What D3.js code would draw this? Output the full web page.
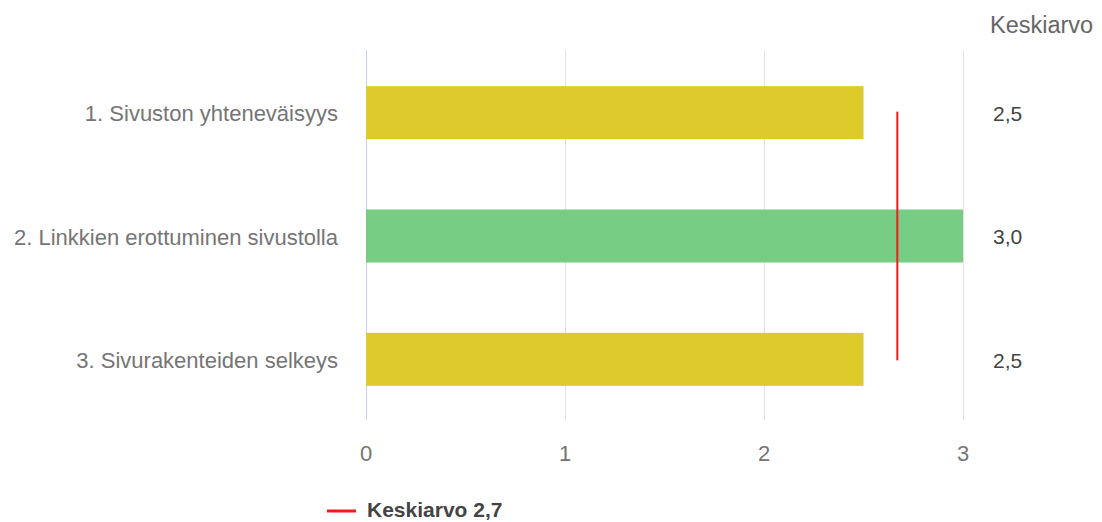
<!DOCTYPE html>
<html><head><meta charset="utf-8">
<script src="https://cdn.jsdelivr.net/npm/d3@7"></script>
<style>body{margin:0;background:#fff;}svg{display:block;font-family:"Liberation Sans",Arial,sans-serif;}</style>
</head><body>
<svg id="c" width="1102" height="522"></svg>
<script>
const categories = ["1. Sivuston yhteneväisyys", "2. Linkkien erottuminen sivustolla", "3. Sivurakenteiden selkeys"];
const values = [2.5, 3.0, 2.5];
const valueLabels = ["2,5", "3,0", "2,5"];
const barColors = ["#dccb2a", "#78cd84", "#dccb2a"];
const meanValue = 2.67;
const meanLabel = "Keskiarvo 2,7";
const xTicks = [0, 1, 2, 3];
const columnHeader = "Keskiarvo";

const svg = d3.select("#c");
const x = d3.scaleLinear().domain([0, 3]).range([366, 963]);
const y = d3.scaleBand().domain(categories).range([50, 420]).paddingInner(0.57).paddingOuter(0.285);

// gridlines
svg.append("g").selectAll("line").data(xTicks).join("line")
  .attr("x1", d => x(d)).attr("x2", d => x(d))
  .attr("y1", 50).attr("y2", 420)
  .attr("stroke", d => d === 0 ? "#c5d0ee" : "#e3e3e3").attr("stroke-width", 1)
  .attr("shape-rendering", "crispEdges");

// bars
svg.append("g").selectAll("rect").data(values).join("rect")
  .attr("x", x(0)).attr("y", (d, i) => y(categories[i]) + 1)
  .attr("width", d => x(d) - x(0)).attr("height", y.bandwidth())
  .attr("fill", (d, i) => barColors[i]);

// mean line
svg.append("line")
  .attr("x1", x(meanValue)).attr("x2", x(meanValue))
  .attr("y1", y(categories[0]) + y.bandwidth() / 2)
  .attr("y2", y(categories[2]) + y.bandwidth() / 2 + 2)
  .attr("stroke", "#f41a1a").attr("stroke-width", 2);

// category labels
svg.append("g").selectAll("text").data(categories).join("text")
  .attr("x", 338).attr("y", d => y(d) + y.bandwidth() / 2 + 2)
  .attr("dy", "0.35em").attr("text-anchor", "end")
  .attr("font-size", 22).attr("fill", "#757575").text(d => d);

// value labels
svg.append("g").selectAll("text").data(valueLabels).join("text")
  .attr("x", 993).attr("y", (d, i) => y(categories[i]) + y.bandwidth() / 2 + 2)
  .attr("dy", "0.35em").attr("font-size", 21).attr("fill", "#444").text(d => d);

svg.append("text").attr("x", 990).attr("y", 25).attr("dy", "0.35em")
  .attr("font-size", 23.5).attr("fill", "#666").text(columnHeader);

// x axis tick labels
svg.append("g").selectAll("text").data(xTicks).join("text")
  .attr("x", d => x(d)).attr("y", 453).attr("dy", "0.35em")
  .attr("text-anchor", "middle").attr("font-size", 22).attr("fill", "#757575").text(d => d);

// legend
svg.append("line").attr("x1", 327).attr("x2", 356).attr("y1", 511).attr("y2", 511)
  .attr("stroke", "#f41a1a").attr("stroke-width", 3);
svg.append("text").attr("x", 367).attr("y", 510).attr("dy", "0.35em")
  .attr("font-size", 21).attr("font-weight", "bold").attr("fill", "#444").text(meanLabel);
</script>
</body></html>
